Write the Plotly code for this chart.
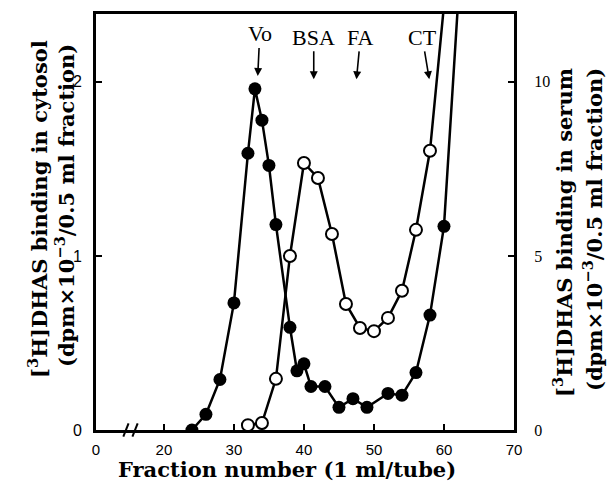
import plotly.graph_objects as go

# ---- data ----
cyto_fraction = [24, 26, 28, 30, 32, 33, 34, 35, 36, 38, 39, 40, 41, 43, 45, 47, 49, 52, 54, 56, 58, 60, 62]
cyto_binding = [0.0, 0.09, 0.29, 0.73, 1.59, 1.96, 1.78, 1.52, 1.18, 0.59, 0.34, 0.38, 0.25, 0.25,
                0.13, 0.18, 0.13, 0.21, 0.20, 0.33, 0.66, 1.17, 2.45]

serum_fraction = [32, 34, 36, 38, 40, 42, 44, 46, 48, 50, 52, 54, 56, 58, 60]
serum_binding = [0.14, 0.2, 1.47, 5.0, 7.67, 7.24, 5.63, 3.62, 2.93, 2.84, 3.22, 4.0, 5.75, 8.02, 12.2]

marker_names = ["Vo", "BSA", "FA", "CT"]
marker_fraction = [33.4, 41.4, 47.5, 57.9]

x_break_start = 10.3          # axis origin (labelled "0") before the break
x_ticks = [20, 30, 40, 50, 60, 70]
left_ticks = [0, 1, 2]
right_ticks = [0, 5, 10]
left_max = 2.39
right_max = left_max * 5

SERIF = "DejaVu Serif"
SANS = "Liberation Sans"

fig = go.Figure()
fig.add_trace(go.Scatter(
    x=serum_fraction, y=serum_binding, yaxis="y2", mode="lines+markers",
    line=dict(color="black", width=2.5),
    marker=dict(size=12, color="white", line=dict(color="black", width=2)),
    showlegend=False, cliponaxis=True))
fig.add_trace(go.Scatter(
    x=cyto_fraction, y=cyto_binding, mode="lines+markers",
    line=dict(color="black", width=2.5),
    marker=dict(size=13, color="black"),
    showlegend=False, cliponaxis=True))

ann = []
offs = {"Vo": 2, "BSA": 0, "FA": 4, "CT": -7}
heads = {"Vo": 0.851, "BSA": 0.843, "FA": 0.843, "CT": 0.843}
for name, fx in zip(marker_names, marker_fraction):
    ann.append(dict(x=fx, y=heads[name], xref="x", yref="paper", text=name,
                    showarrow=True, ax=offs[name], ay=-42, axref="pixel", ayref="pixel",
                    arrowhead=2, arrowsize=1, arrowwidth=1.6, arrowcolor="black",
                    font=dict(family="Liberation Serif", size=22, color="black")))

title_font = dict(family=SERIF, size=21, color="black", weight="bold")
W, H = 607, 487
L, R, T, B = 96, 93, 14, 57
pw, ph = W - L - R, H - T - B
def px(xp):
    return (xp - L) / pw
def py(yp):
    return (H - B - yp) / ph

def title(xp, yp, text, angle=0):
    return dict(x=px(xp), y=py(yp), xref="paper", yref="paper", showarrow=False,
                xanchor="center", yanchor="middle", textangle=angle, text=text, font=title_font)

ann.append(title(287, 469, "Fraction number (1 ml/tube)"))
ann.append(title(38, 209, "[<sup>3</sup>H]DHAS binding in cytosol", -90))
ann.append(title(65, 206, "(dpm×10<sup>−3</sup>/0.5 ml fraction)", -90))
ann.append(title(563, 233, "[<sup>3</sup>H]DHAS binding in serum", -90))
ann.append(title(593, 230, "(dpm×10<sup>−3</sup>/0.5 ml fraction)", -90))

shapes = []
for x0 in (14.2, 15.5):
    shapes.append(dict(type="line", xref="x", yref="paper", x0=x0, x1=x0 + 0.75,
                       y0=-0.016, y1=0.016, line=dict(color="black", width=2)))

fig.update_layout(
    width=W, height=H, margin=dict(l=L, r=R, t=T, b=B),
    paper_bgcolor="white", plot_bgcolor="white",
    xaxis=dict(range=[x_break_start, 70], tickvals=[x_break_start] + x_ticks,
               ticktext=["0"] + [str(v) for v in x_ticks],
               ticks="inside", ticklen=6, tickwidth=2, tickcolor="black",
               showline=True, linewidth=3, linecolor="black", mirror=True,
               showgrid=False, zeroline=False, ticklabelstandoff=4,
               tickfont=dict(family=SANS, size=15, color="black")),
    yaxis=dict(range=[0, left_max], tickvals=left_ticks,
               ticks="inside", ticklen=6, tickwidth=2, tickcolor="black",
               showline=True, linewidth=3, linecolor="black",
               showgrid=False, zeroline=False, ticklabelstandoff=8,
               tickfont=dict(family=SANS, size=16, color="black")),
    yaxis2=dict(range=[0, right_max], tickvals=right_ticks, overlaying="y", side="right",
                ticks="inside", ticklen=6, tickwidth=2, tickcolor="black",
                showline=True, linewidth=3, linecolor="black",
                showgrid=False, zeroline=False, ticklabelstandoff=14,
                tickfont=dict(family="Liberation Serif", size=16, color="black")),
    annotations=ann, shapes=shapes,
)

fig.write_html("out.html")
